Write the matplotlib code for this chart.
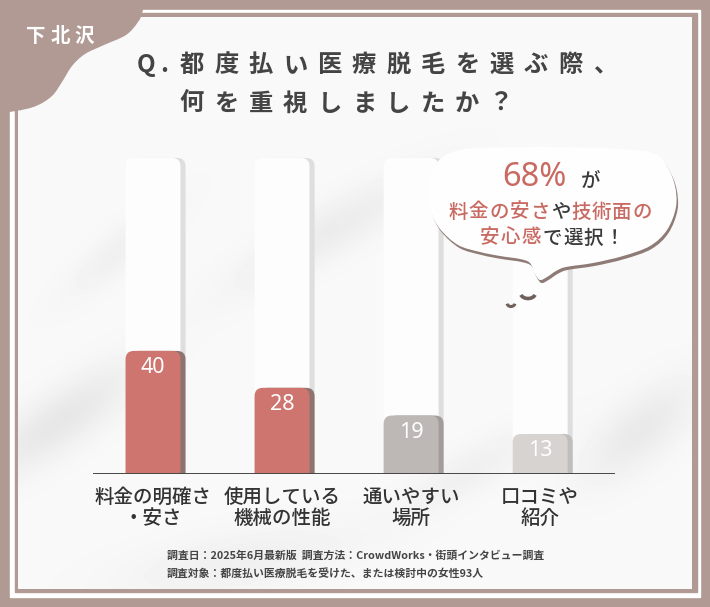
import numpy as np
import matplotlib
matplotlib.use("Agg")
import matplotlib.pyplot as plt
from matplotlib.path import Path
from matplotlib.patches import PathPatch, FancyBboxPatch, Rectangle, Ellipse, Arc

plt.rcParams['font.family'] = ['Noto Sans CJK JP', 'DejaVu Sans']

# ===============================
# データ
# ===============================
categories = ["料金の明確さ\n・安さ", "使用している\n機械の性能", "通いやすい\n場所", "口コミや\n紹介"]
values = [40, 28, 19, 13]
bar_colors = ["#cd756e", "#cd756e", "#bdb8b6", "#d6d3d1"]
shadow_colors = ["#8e7470", "#8e7470", "#a29c9a", "#c1bdbb"]

area_label = "下北沢"
title_q = "Q."
title_line1 = "都度払い医療脱毛を選ぶ際、"
title_line2 = "何を重視しましたか？"

bubble_pct = "68%"
bubble_ga = "が"
bubble_line2 = [("料金の安さ", "red"), ("や", "dark"), ("技術面の", "red")]
bubble_line3 = [("安心感", "red"), ("で選択！", "dark")]

note_line1 = "調査日：2025年6月最新版  調査方法：CrowdWorks・街頭インタビュー調査"
note_line2 = "調査対象：都度払い医療脱毛を受けた、または検討中の女性93人"

BROWN = "#b09a93"
RED_TXT = "#c96a62"
DARK = "#444444"

W, H = 710, 607
fig = plt.figure(figsize=(W / 100, H / 100), dpi=100)


def px_axes(z):
    ax = fig.add_axes([0, 0, 1, 1])
    ax.set_xlim(0, W)
    ax.set_ylim(H, 0)
    ax.axis('off')
    ax.set_zorder(z)
    ax.patch.set_alpha(0)
    return ax


def smooth_path(pts):
    # closed catmull-rom -> bezier
    pts = np.asarray(pts, float)
    n = len(pts)
    verts = [pts[0]]
    codes = [Path.MOVETO]
    for i in range(n):
        p0, p1, p2, p3 = pts[(i - 1) % n], pts[i], pts[(i + 1) % n], pts[(i + 2) % n]
        verts += [p1 + (p2 - p0) / 6, p2 - (p3 - p1) / 6, p2]
        codes += [Path.CURVE4] * 3
    verts.append(pts[0])
    codes.append(Path.CLOSEPOLY)
    return Path(verts, codes)


def spaced(ax, x0, y, text, step, colors, **kw):
    for i, ch in enumerate(text):
        ax.text(x0 + i * step, y, ch, color=colors[i], ha='center', va='center', **kw)


# --- 1. 背景と枠 ---
ax_bg = px_axes(0)
ax_bg.add_patch(Rectangle((0, 0), W, H, color=BROWN, zorder=0))
ax_bg.add_patch(Rectangle((10, 10), 690, 587, color="white", zorder=1))
ax_bg.add_patch(Rectangle((15, 13), 682, 579, color=BROWN, zorder=2))

yy, xx = np.mgrid[0:572, 0:674]
xx = xx + 18
yy = yy + 17
tex = np.full(xx.shape, 0.975)
for cx, cy, sa, sb, ang, amp in [(60, 420, 90, 28, -35, 0.07), (330, 230, 110, 25, -30, 0.05),
                                 (640, 430, 70, 30, -40, 0.06), (240, 560, 120, 30, -10, 0.035),
                                 (470, 470, 80, 22, -30, 0.035), (120, 250, 70, 20, -40, 0.035)]:
    t = np.deg2rad(ang)
    u = (xx - cx) * np.cos(t) + (yy - cy) * np.sin(t)
    v = -(xx - cx) * np.sin(t) + (yy - cy) * np.cos(t)
    tex -= amp * np.exp(-(u / sa) ** 2 - (v / sb) ** 2)
ax_bg.imshow(tex, cmap='gray', vmin=0, vmax=1, extent=(18, 692, 589, 17),
             interpolation='bilinear', zorder=3, aspect='auto')

# --- 2. 棒グラフ ---
ax_bar = fig.add_axes([93 / W, 1 - 474 / H, (615 - 93) / W, (474 - 157) / H])
ax_bar.set_zorder(1)
ax_bar.patch.set_alpha(0)
XMIN, XMAX, YMAX = -0.465, 3.58, 103
ax_bar.set_xlim(XMIN, XMAX)
ax_bar.set_ylim(0, YMAX)
for s in ax_bar.spines.values():
    s.set_visible(False)
ax_bar.set_yticks([])

asp = (YMAX / 317) / ((XMAX - XMIN) / 522)
bw = 0.426
off = 0.039
r = 0.065
x = np.arange(len(values))
for i, v in enumerate(values):
    # 背景の柱
    ax_bar.add_patch(FancyBboxPatch((x[i] - bw / 2 + off, -5), bw, YMAX - 0.3 + 5,
                                    boxstyle=f"round,pad=0,rounding_size={r}", mutation_aspect=asp,
                                    fc="#dedede", ec="none", zorder=1))
    ax_bar.add_patch(FancyBboxPatch((x[i] - bw / 2, -5), bw, YMAX - 0.3 + 5,
                                    boxstyle=f"round,pad=0,rounding_size={r}", mutation_aspect=asp,
                                    fc="#fdfdfd", ec="none", zorder=2))
    # 棒
    ax_bar.add_patch(FancyBboxPatch((x[i] - bw / 2 + off, -5), bw, v + 5,
                                    boxstyle=f"round,pad=0,rounding_size={r}", mutation_aspect=asp,
                                    fc=shadow_colors[i], ec="none", zorder=3))
    ax_bar.add_patch(FancyBboxPatch((x[i] - bw / 2, -5), bw, v + 5,
                                    boxstyle=f"round,pad=0,rounding_size={r}", mutation_aspect=asp,
                                    fc=bar_colors[i], ec="none", zorder=4))
    ax_bar.annotate(str(v), (x[i], v), xytext=(0, -12.2), textcoords='offset points',
                    ha='center', va='center', color='white', fontsize=15.5, zorder=5,
                    weight='medium', family=['Noto Sans', 'DejaVu Sans'])

ax_bar.axhline(0, color="#444444", lw=2.1, zorder=6)
ax_bar.set_xticks(x)
ax_bar.set_xticklabels(categories, fontsize=14, color="#333333", linespacing=1.12, weight='medium')
ax_bar.tick_params(axis='x', length=0, pad=10)

# --- 3. 前面の要素 ---
ax_top = px_axes(2)

blob = [(143, 10), (138, 22), (126, 35), (104, 45), (85, 54), (72, 66), (62, 82),
        (52, 96), (36, 106), (16, 111), (-5, 113), (-25, 113), (-25, -25), (150, -25)]
ax_top.add_patch(PathPatch(smooth_path(blob), fc=BROWN, ec="none", zorder=1))
spaced(ax_top, 36, 36, area_label, 24, ["white"] * 3, fontsize=14, weight='bold', zorder=2)

tkw = dict(fontsize=17.5, weight='bold', zorder=2)
ax_top.text(146, 65, "Q", color=DARK, ha='center', va='center', **tkw)
ax_top.text(164, 65, ".", color=DARK, ha='center', va='center', **tkw)
spaced(ax_top, 192, 65, title_line1, 34.4, [DARK] * len(title_line1), **tkw)
spaced(ax_top, 192, 104, title_line2, 34.4, [DARK] * len(title_line2), **tkw)

bubble = [(460, 150), (540, 147), (620, 149), (655, 154), (668, 168), (675, 186), (676, 207),
          (667, 230), (650, 246), (623, 256), (593, 263), (566, 267), (556, 271), (547, 277),
          (540, 280), (535, 274), (530, 263), (520, 259), (500, 256), (480, 252), (458, 245),
          (440, 229), (431, 212), (428, 192), (433, 168)]
bp = smooth_path(bubble)
ax_top.add_patch(PathPatch(bp.transformed(matplotlib.transforms.Affine2D().translate(1.5, 3.0)),
                           fc="#8f7b76", ec="none", zorder=3))
ax_top.add_patch(PathPatch(bp, fc="#fefefe", ec="none", zorder=4))
ax_top.add_patch(Arc((511, 303), 8, 7, theta1=10, theta2=170, color="#6f605c", lw=2.2, zorder=4))
ax_top.add_patch(Arc((528, 293), 15, 11, theta1=15, theta2=165, color="#6f605c", lw=2.6, zorder=4))

ax_top.text(534, 178, bubble_pct, color=RED_TXT, ha='center', va='center', fontsize=23.5,
            weight='medium', zorder=5, family=['Noto Sans', 'DejaVu Sans'])
ax_top.text(591, 181, bubble_ga, color="#3a3a3a", ha='center', va='center', fontsize=14,
            weight='medium', zorder=5)


def colored_line(x0, y, parts, step):
    chars, cols = "", []
    for s, c in parts:
        chars += s
        cols += [RED_TXT if c == "red" else "#3a3a3a"] * len(s)
    spaced(ax_top, x0, y, chars, step, cols, fontsize=14, weight='medium', zorder=5)


colored_line(458, 212, bubble_line2, 20.5)
colored_line(490, 238, bubble_line3, 20.7)

ax_top.text(167, 555, note_line1, color=DARK, fontsize=7.8, weight='bold', va='center', zorder=5)
ax_top.text(167, 573, note_line2, color=DARK, fontsize=7.8, weight='bold', va='center', zorder=5)

fig.savefig("out.png", dpi=100)
